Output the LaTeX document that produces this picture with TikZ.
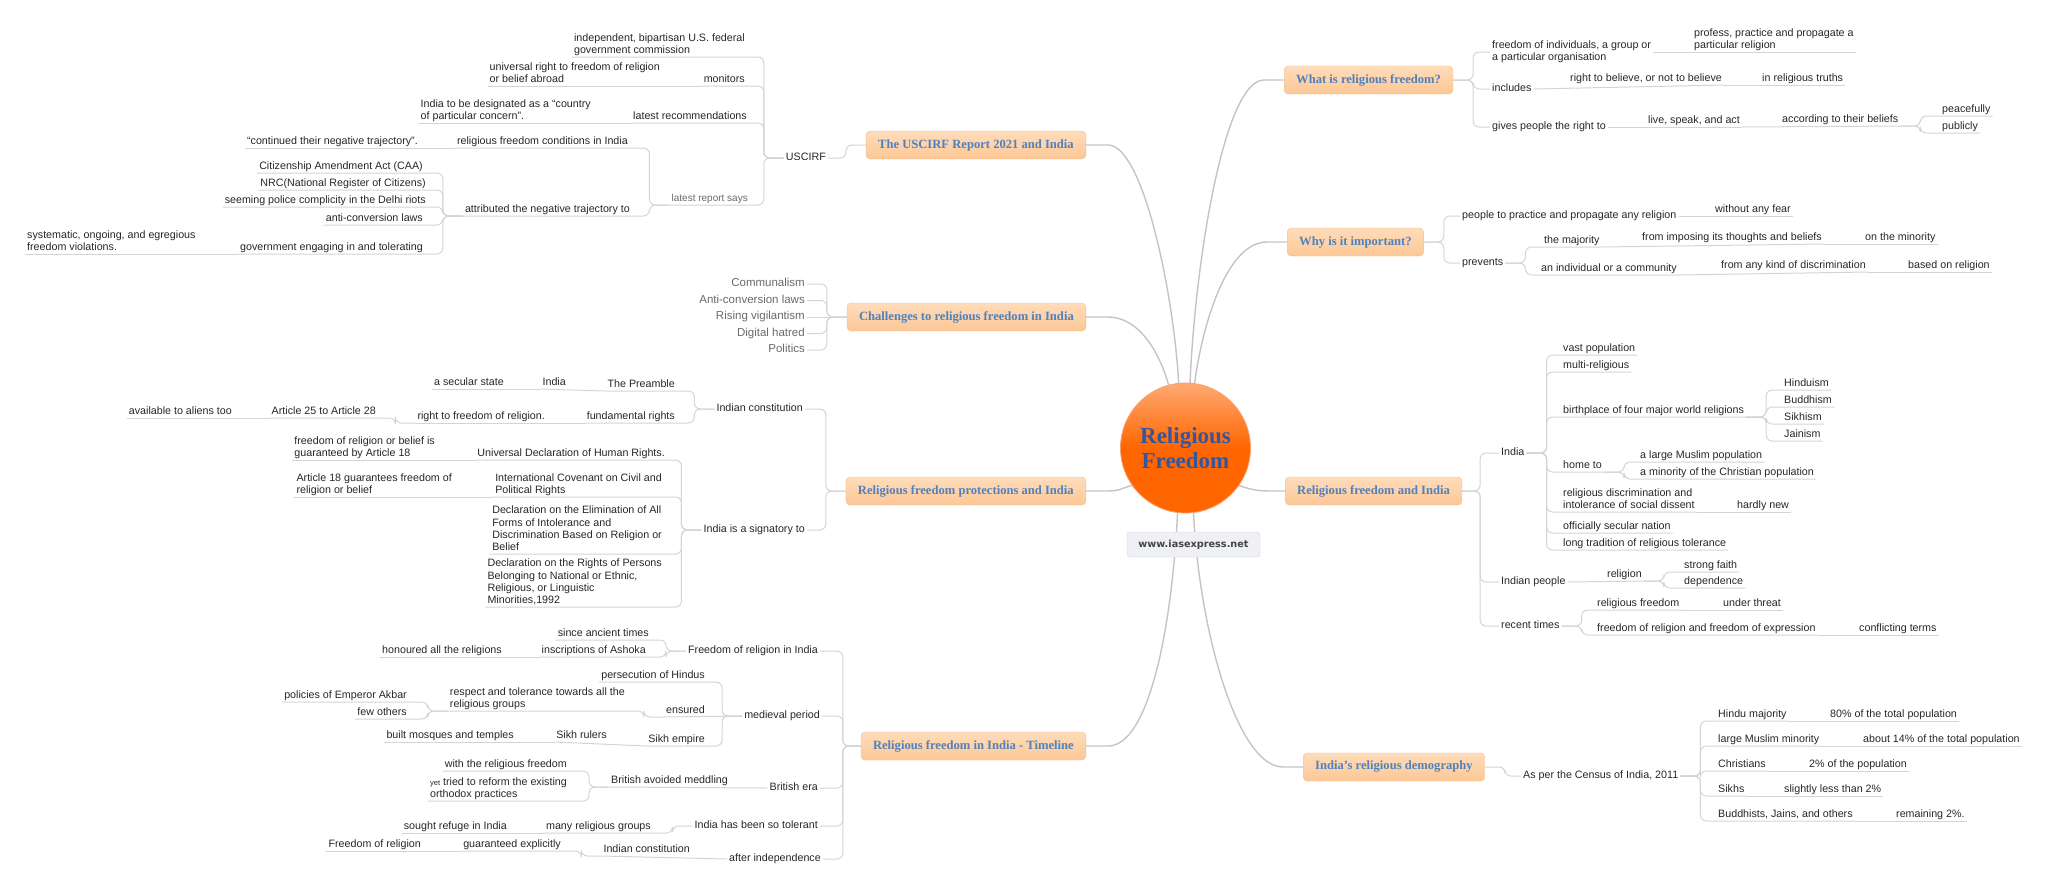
\documentclass[tikz,border=0pt]{standalone}
\usepackage{fontspec}
\setmainfont{Liberation Sans}
\newfontfamily\tnr{Liberation Serif}
\newfontfamily\vrd{DejaVu Sans}
\usepackage{tikz}
\usetikzlibrary{backgrounds}
\definecolor{lineg}{RGB}{212,212,212}
\definecolor{mlineg}{RGB}{196,196,196}
\definecolor{txtc}{RGB}{38,38,38}
\definecolor{chalc}{RGB}{105,105,105}
\definecolor{boxtop}{RGB}{255,220,186}
\definecolor{boxbot}{RGB}{252,199,150}
\definecolor{boxdraw}{RGB}{240,192,146}
\definecolor{boxtxt}{RGB}{79,129,189}
\definecolor{circtop}{RGB}{255,170,115}
\definecolor{circbot}{RGB}{255,102,0}
\definecolor{circdraw}{RGB}{250,160,110}
\definecolor{circtxt}{RGB}{55,85,155}
\definecolor{webfill}{RGB}{238,240,246}
\definecolor{webdraw}{RGB}{212,216,226}
\definecolor{webtxt}{RGB}{68,68,68}
\newcommand{\smalltx}{\fontsize{10.7}{12.3}\selectfont}
\newcommand{\lastdp}{\rule[-2.5pt]{0pt}{2.5pt}}
\tikzstyle{tx}=[inner xsep=2pt, inner ysep=0.5pt, font=\smalltx, text=txtc, text height=7.7pt, text depth=2.5pt]
\tikzstyle{tm}=[inner xsep=2pt, inner ysep=0.5pt, font=\smalltx, text=txtc, align=left, execute at end node=\lastdp]
\tikzstyle{tg}=[tx, font=\fontsize{10}{12}\selectfont, text=chalc]
\tikzstyle{chal}=[tx, font=\fontsize{11.5}{13}\selectfont, text=chalc]
\tikzstyle{mbox}=[draw=boxdraw, rounded corners=4pt, top color=boxtop, bottom color=boxbot, text=boxtxt, font=\tnr\bfseries\fontsize{12.6}{14}\selectfont, minimum height=28pt, inner xsep=12pt]
\tikzstyle{web}=[draw=webdraw, fill=webfill, rounded corners=3pt, minimum width=133pt, minimum height=25pt, text=webtxt, font=\vrd\bfseries\fontsize{9.7}{11}\selectfont]
\tikzstyle{con}=[draw=lineg, line width=1pt, rounded corners=6pt]
\tikzstyle{mcon}=[draw=mlineg, line width=1.4pt]

\begin{document}
\begin{tikzpicture}[x = 1pt, y = -1pt]
\useasboundingbox (0,0) rectangle (2048,892);

\node[circle, draw=circdraw, line width=0.8pt, top color=circtop, bottom color=circbot, middle color=circbot, minimum size=130pt, inner sep=0pt, text=circtxt, font=\tnr\bfseries\fontsize{23}{25}\selectfont, align=center] (RF) at (1185.5, 448) {Religious\\Freedom};
\node[web] (WEB) at (1193.5, 544.5) {www.iasexpress.net};

\node[mbox, anchor = east] (B1) at (1086, 145) {The USCIRF Report 2021 and India};
\node[mbox, anchor = east] (B2) at (1086, 317) {Challenges to religious freedom in India};
\node[mbox, anchor = east] (B3) at (1086, 491) {Religious freedom protections and India};
\node[mbox, anchor = east] (B4) at (1086, 746) {Religious freedom in India - Timeline};
\node[mbox, anchor = west] (B5) at (1284, 80) {What is religious freedom?};
\node[mbox, anchor = west] (B6) at (1287, 242) {Why is it important?};
\node[mbox, anchor = west] (B7) at (1285, 491) {Religious freedom and India};
\node[mbox, anchor = west] (B8) at (1303, 767) {India’s religious demography};

% USCIRF
\node[tx, anchor = east] (U0) at (828, 158) {USCIRF};
\node[tm, anchor = south east] (U1) at (747, 57) {independent, bipartisan U.S. federal\\government commission};
\node[tx, anchor = south east] (U2) at (747, 86) {monitors};
\node[tm, anchor = south east] (U3) at (662, 86) {universal right to freedom of religion\\or belief abroad};
\node[tx, anchor = south east] (U4) at (749, 123) {latest recommendations};
\node[tm, anchor = south east] (U5) at (593, 123) {India to be designated as a “country\\of particular concern”.};
\node[tg, anchor = south east] (U6) at (750, 205) {latest report says};
\node[tx, anchor = south east] (U7) at (630, 148) {religious freedom conditions in India};
\node[tx, anchor = south east] (U8) at (420, 148) {“continued their negative trajectory”.};
\node[tx, anchor = south east] (U9) at (632, 216) {attributed the negative trajectory to};
\node[tx, anchor = south east] (U10) at (425, 173) {Citizenship Amendment Act (CAA)};
\node[tx, anchor = south east] (U11) at (428, 190) {NRC(National Register of Citizens)};
\node[tx, anchor = south east] (U12) at (428, 207) {seeming police complicity in the Delhi riots};
\node[tx, anchor = south east] (U13) at (425, 225) {anti-conversion laws};
\node[tx, anchor = south east] (U14) at (425, 254) {government engaging in and tolerating};
\node[tm, anchor = south west] (U15) at (25, 254) {systematic, ongoing, and egregious\\freedom violations.};

% challenges
\foreach \nm [count=\i] in {Communalism, Anti-conversion laws, Rising vigilantism, Digital hatred, Politics}{
\node[chal, anchor = east] (C\i) at (807, 267.5+16.5*\i) {\nm};
}

% protections
\node[tx, anchor = east] (P1) at (805, 409) {Indian constitution};
\node[tx, anchor = east] (P2) at (807, 530) {India is a signatory to};
\node[tx, anchor = south east] (P3) at (677, 391) {The Preamble};
\node[tx, anchor = south east] (P4) at (568, 389) {India};
\node[tx, anchor = south east] (P5) at (506, 389) {a secular state};
\node[tx, anchor = south east] (P6) at (677, 423) {fundamental rights};
\node[tx, anchor = south east] (P7) at (547, 423) {right to freedom of religion.};
\node[tx, anchor = south east] (P8) at (378, 418) {Article 25 to Article 28};
\node[tx, anchor = south east] (P9) at (234, 418) {available to aliens too};
\node[tx, anchor = south east] (P10) at (667, 460) {Universal Declaration of Human Rights.};
\node[tm, anchor = south east] (P11) at (437, 460) {freedom of religion or belief is\\guaranteed by Article 18};
\node[tm, anchor = south east] (P12) at (664, 497) {International Covenant on Civil and\\Political Rights};
\node[tm, anchor = south east] (P13) at (454, 497) {Article 18 guarantees freedom of\\religion or belief};
\node[tm, anchor = south east] (P14) at (664, 554) {Declaration on the Elimination of All\\Forms of Intolerance and\\Discrimination Based on Religion or\\Belief};
\node[tm, anchor = south east] (P15) at (664, 607) {Declaration on the Rights of Persons\\Belonging to National or Ethnic,\\Religious, or Linguistic\\Minorities,1992};

% timeline
\node[tx, anchor = east] (T1) at (820, 651) {Freedom of religion in India};
\node[tx, anchor = east] (T2) at (822, 716) {medieval period};
\node[tx, anchor = east] (T3) at (820, 788) {British era};
\node[tx, anchor = east] (T4) at (820, 826) {India has been so tolerant};
\node[tx, anchor = east] (T5) at (823, 859) {after independence};
\node[tx, anchor = south east] (T6) at (651, 640) {since ancient times};
\node[tx, anchor = south east] (T7) at (648, 657) {inscriptions of Ashoka};
\node[tx, anchor = south east] (T8) at (504, 657) {honoured all the religions};
\node[tx, anchor = south east] (T9) at (707, 682) {persecution of Hindus};
\node[tx, anchor = south east] (T10) at (707, 717) {ensured};
\node[tm, anchor = south east] (T11) at (627, 711) {respect and tolerance towards all the\\religious groups};
\node[tx, anchor = south east] (T12) at (409, 702) {policies of Emperor Akbar};
\node[tx, anchor = south east] (T13) at (409, 719) {few others};
\node[tx, anchor = south east] (T14) at (707, 746) {Sikh empire};
\node[tx, anchor = south east] (T15) at (609, 742) {Sikh rulers};
\node[tx, anchor = south east] (T16) at (516, 742) {built mosques and temples};
\node[tx, anchor = south east] (T17) at (730, 787) {British avoided meddling};
\node[tx, anchor = south east] (T18) at (569, 771) {with the religious freedom};
\node[tm, anchor = south east] (T19) at (569, 801) {{\fontsize{7.5}{9}\selectfont yet} tried to reform the existing\\orthodox practices};
\node[tx, anchor = south east] (T20) at (653, 833) {many religious groups};
\node[tx, anchor = south east] (T21) at (509, 833) {sought refuge in India};
\node[tx, anchor = south east] (T22) at (692, 856) {Indian constitution};
\node[tx, anchor = south east] (T23) at (563, 851) {guaranteed explicitly};
\node[tx, anchor = south east] (T24) at (423, 851) {Freedom of religion};

% what is religious freedom
\node[tm, anchor = west] (W1) at (1490, 52) {freedom of individuals, a group or\\a particular organisation};
\node[tx, anchor = west] (W2) at (1490, 89) {includes};
\node[tx, anchor = west] (W3) at (1490, 127) {gives people the right to};
\node[tm, anchor = south west] (W4) at (1692, 52) {profess, practice and propagate a\\particular religion};
\node[tx, anchor = south west] (W5) at (1568, 85) {right to believe, or not to believe};
\node[tx, anchor = south west] (W6) at (1760, 85) {in religious truths};
\node[tx, anchor = south west] (W7) at (1646, 127) {live, speak, and act};
\node[tx, anchor = south west] (W8) at (1780, 126) {according to their beliefs};
\node[tx, anchor = south west] (W9) at (1940, 116) {peacefully};
\node[tx, anchor = south west] (W10) at (1940, 133) {publicly};

% why is it important
\node[tx, anchor = west] (I1) at (1460, 216) {people to practice and propagate any religion};
\node[tx, anchor = west] (I2) at (1460, 263) {prevents};
\node[tx, anchor = south west] (I3) at (1713, 216) {without any fear};
\node[tx, anchor = south west] (I4) at (1542, 247) {the majority};
\node[tx, anchor = south west] (I5) at (1640, 244) {from imposing its thoughts and beliefs};
\node[tx, anchor = south west] (I6) at (1863, 244) {on the minority};
\node[tx, anchor = south west] (I7) at (1539, 275) {an individual or a community};
\node[tx, anchor = south west] (I8) at (1719, 272) {from any kind of discrimination};
\node[tx, anchor = south west] (I9) at (1906, 272) {based on religion};

% religious freedom and India
\node[tx, anchor = west] (R1) at (1499, 453) {India};
\node[tx, anchor = west] (R2) at (1499, 582) {Indian people};
\node[tx, anchor = west] (R3) at (1499, 626) {recent times};
\node[tx, anchor = south west] (R4) at (1561, 355) {vast population};
\node[tx, anchor = south west] (R5) at (1561, 372) {multi-religious};
\node[tx, anchor = south west] (R6) at (1561, 417) {birthplace of four major world religions};
\foreach \nm [count=\i] in {Hinduism, Buddhism, Sikhism, Jainism}{
\pgfmathtruncatemacro{\k}{\i+6}
\node[tx, anchor = south west] (R\k) at (1782, 373+17*\i) {\nm};
}
\node[tx, anchor = south west] (R11) at (1561, 472) {home to};
\node[tx, anchor = south west] (R12) at (1638, 462) {a large Muslim population};
\node[tx, anchor = south west] (R13) at (1638, 479) {a minority of the Christian population};
\node[tm, anchor = south west] (R14) at (1561, 512) {religious discrimination and\\intolerance of social dissent};
\node[tx, anchor = south west] (R15) at (1735, 512) {hardly new};
\node[tx, anchor = south west] (R16) at (1561, 533) {officially secular nation};
\node[tx, anchor = south west] (R17) at (1561, 550) {long tradition of religious tolerance};
\node[tx, anchor = south west] (R18) at (1605, 581) {religion};
\node[tx, anchor = south west] (R19) at (1682, 572) {strong faith};
\node[tx, anchor = south west] (R20) at (1682, 588) {dependence};
\node[tx, anchor = south west] (R21) at (1595, 610) {religious freedom};
\node[tx, anchor = south west] (R22) at (1721, 610) {under threat};
\node[tx, anchor = south west] (R23) at (1595, 635) {freedom of religion and freedom of expression};
\node[tx, anchor = south west] (R24) at (1857, 635) {conflicting terms};

% demography
\node[tx, anchor = west] (D1) at (1521, 776) {As per the Census of India, 2011};
\node[tx, anchor = south west] (D2) at (1716, 721) {Hindu majority};
\node[tx, anchor = south west] (D3) at (1716, 746) {large Muslim minority};
\node[tx, anchor = south west] (D4) at (1716, 771) {Christians};
\node[tx, anchor = south west] (D5) at (1716, 796) {Sikhs};
\node[tx, anchor = south west] (D6) at (1716, 821) {Buddhists, Jains, and others};
\node[tx, anchor = south west] (D7) at (1828, 721) {80\% of the total population};
\node[tx, anchor = south west] (D8) at (1861, 746) {about 14\% of the total population};
\node[tx, anchor = south west] (D9) at (1807, 771) {2\% of the population};
\node[tx, anchor = south west] (D10) at (1782, 796) {slightly less than 2\%};
\node[tx, anchor = south west] (D11) at (1894, 821) {remaining 2\%.};

\begin{scope}[on background layer]
\draw[mcon] (B1.east) -- ++(22,0) .. controls +(35,0) and +(-5,-90) .. (RF.96);
\draw[mcon] (B2.east) -- ++(22,0) .. controls +(30,0) and +(-10,-35) .. (RF.105);
\draw[mcon] (B3.east) -- ++(20,0) .. controls +(15,0) and +(-12,3) .. (RF.215);
\draw[mcon] (B4.east) -- ++(22,0) .. controls +(40,0) and +(-6,120) .. (RF.263);
\draw[mcon] (B5.west) -- ++(-20,0) .. controls +(-40,0) and +(5,-120) .. (RF.86);
\draw[mcon] (B6.west) -- ++(-20,0) .. controls +(-40,0) and +(8,-60) .. (RF.82);
\draw[mcon] (B7.west) -- ++(-14,0) .. controls +(-15,0) and +(12,4) .. (RF.325);
\draw[mcon] (B8.west) -- ++(-20,0) .. controls +(-45,0) and +(6,120) .. (RF.277);

\draw[con] (B1.west) -- ++(-20,0) |- (U0.east);
\foreach \k in {1,2,4,6} \draw[con] (U0.west) -- ++(-20,0) |- (U\k.south west);
\draw[con] (U2.south west) -- (U3.south west);
\draw[con] (U4.south west) -- (U5.south west);
\foreach \k in {7,9} \draw[con] (U6.south west) -- ++(-20,0) |- (U\k.south west);
\draw[con] (U7.south west) -- (U8.south west);
\foreach \k in {10,...,14} \draw[con] (U9.south west) -- ++(-20,0) |- (U\k.south west);
\draw[con] (U14.south west) -- (U15.south west);

\foreach \i in {1,2,4,5} \draw[con] (B2.west) -- ++(-20,0) |- (C\i.east);
\draw[con] (B2.west) -- (C3.east);

\foreach \k in {1,2} \draw[con] (B3.west) -- ++(-20,0) |- (P\k.east);
\foreach \k in {3,6} \draw[con] (P1.west) -- ++(-20,0) |- (P\k.south west);
\draw[con] (P3.south west) -- (P4.south west);
\draw[con] (P4.south west) -- (P5.south west);
\draw[con] (P6.south west) -- (P7.south west);
\draw[con] (P7.south west) -- ++(-20,0) |- (P8.south west);
\draw[con] (P8.south west) -- (P9.south west);
\foreach \k in {10,12,14,15} \draw[con] (P2.west) -- ++(-20,0) |- (P\k.south west);
\draw[con] (P10.south west) -- (P11.south west);
\draw[con] (P12.south west) -- (P13.south west);

\foreach \k in {1,...,5} \draw[con] (B4.west) -- ++(-18,0) |- (T\k.east);
\foreach \k in {6,7} \draw[con] (T1.west) -- ++(-20,0) |- (T\k.south west);
\draw[con] (T7.south west) -- (T8.south west);
\foreach \k in {9,14} \draw[con] (T2.west) -- ++(-20,0) |- (T\k.south west);
\draw[con] (T2.west) -- (T10.south west);
\draw[con] (T10.south west) -- ++(-20,0) |- (T11.south west);
\foreach \k in {12,13} \draw[con] (T11.south west) -- ++(-20,0) |- (T\k.south west);
\draw[con] (T14.south west) -- (T15.south west);
\draw[con] (T15.south west) -- (T16.south west);
\draw[con] (T3.west) -- (T17.south west);
\foreach \k in {18,19} \draw[con] (T17.south west) -- ++(-20,0) |- (T\k.south west);
\draw[con] (T4.west) -- ++(-20,0) |- (T20.south west);
\draw[con] (T20.south west) -- (T21.south west);
\draw[con] (T5.west) -- (T22.south west);
\draw[con] (T22.south west) -- ++(-20,0) |- (T23.south west);
\draw[con] (T23.south west) -- (T24.south west);

\foreach \k in {1,2,3} \draw[con] (B5.east) -- ++(20,0) |- (W\k.west);
\draw[con] (W1.east) -- (W4.south east);
\draw[con] (W2.east) -- (W5.south east);
\draw[con] (W5.south east) -- (W6.south east);
\draw[con] (W3.east) -- (W7.south east);
\draw[con] (W7.south east) -- (W8.south east);
\foreach \k in {9,10} \draw[con] (W8.south east) -- ++(20,0) |- (W\k.south east);

\foreach \k in {1,2} \draw[con] (B6.east) -- ++(20,0) |- (I\k.west);
\draw[con] (I1.east) -- (I3.south east);
\foreach \k in {4,7} \draw[con] (I2.east) -- ++(20,0) |- (I\k.south east);
\draw[con] (I4.south east) -- (I5.south east);
\draw[con] (I5.south east) -- (I6.south east);
\draw[con] (I7.south east) -- (I8.south east);
\draw[con] (I8.south east) -- (I9.south east);

\foreach \k in {1,2,3} \draw[con] (B7.east) -- ++(18,0) |- (R\k.west);
\foreach \k in {4,5,6,11,14,16,17} \draw[con] (R1.east) -- ++(20,0) |- (R\k.south east);
\foreach \k in {7,...,10} \draw[con] (R6.south east) -- ++(20,0) |- (R\k.south east);
\foreach \k in {12,13} \draw[con] (R11.south east) -- ++(20,0) |- (R\k.south east);
\draw[con] (R14.south east) -- (R15.south east);
\draw[con] (R2.east) -- (R18.south east);
\foreach \k in {19,20} \draw[con] (R18.south east) -- ++(20,0) |- (R\k.south east);
\foreach \k in {21,23} \draw[con] (R3.east) -- ++(20,0) |- (R\k.south east);
\draw[con] (R21.south east) -- (R22.south east);
\draw[con] (R23.south east) -- (R24.south east);

\draw[con] (B8.east) -- ++(20,0) |- (D1.west);
\foreach \k in {2,...,6} \draw[con] (D1.east) -- ++(20,0) |- (D\k.south east);
\foreach \k in {2,...,6}{
\pgfmathtruncatemacro{\j}{\k+5}
\draw[con] (D\k.south east) -- (D\j.south east);
}
\end{scope}
\end{tikzpicture}
\end{document}
